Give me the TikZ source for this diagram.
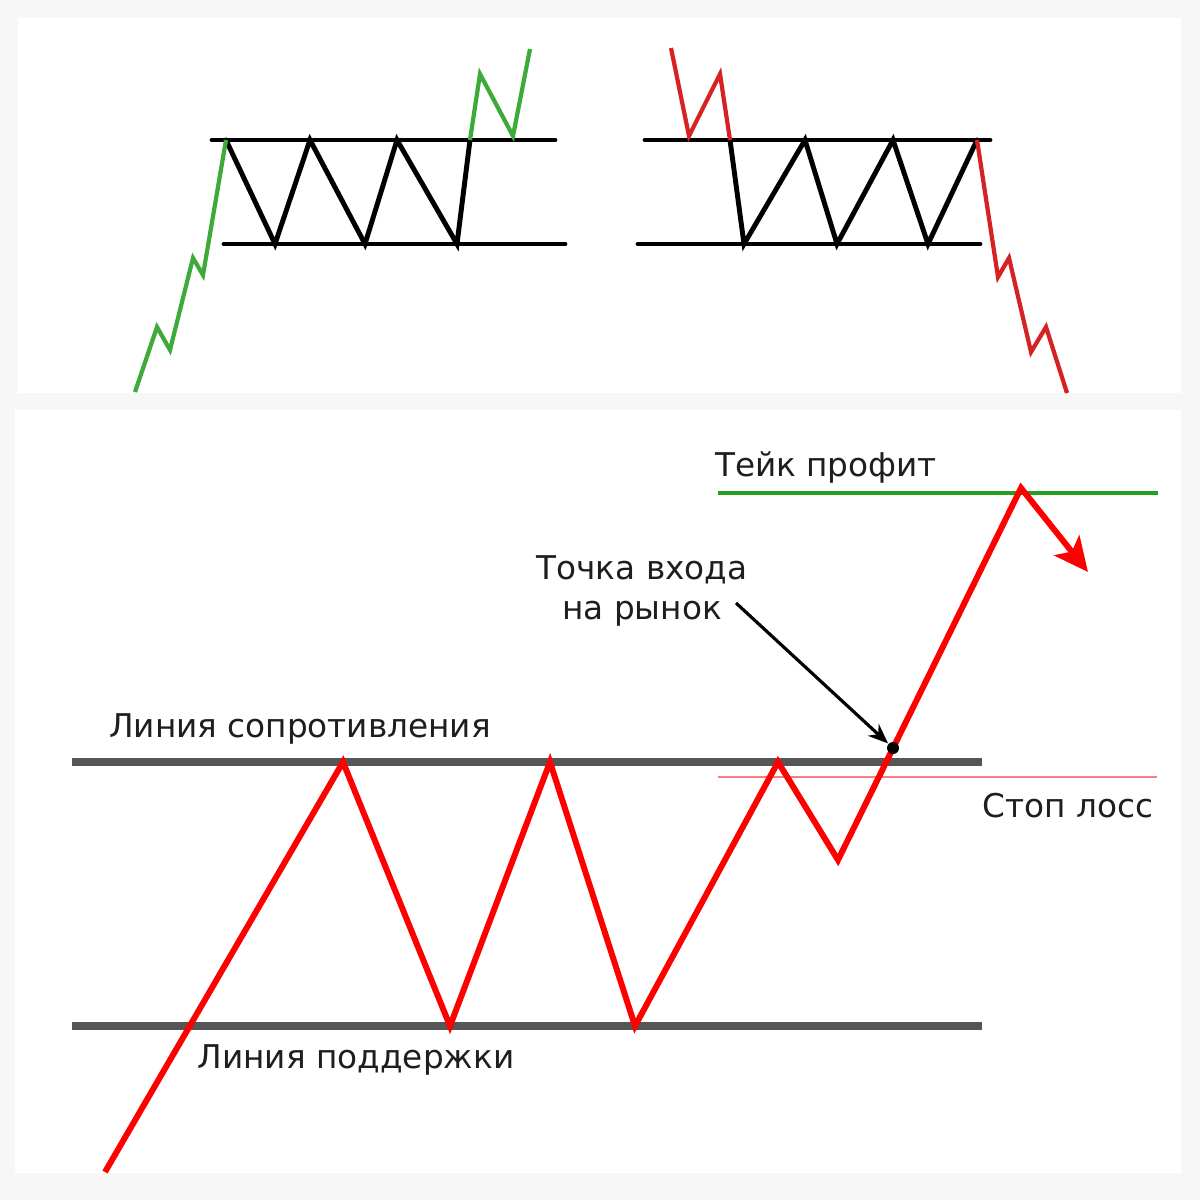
\documentclass[tikz,border=0pt]{standalone}
\usepackage{fontspec}
\setmainfont{DejaVu Sans}
\usetikzlibrary{arrows.meta, positioning}
\definecolor{upgreen}{HTML}{3DAA3A}
\definecolor{downred}{HTML}{D62222}
\definecolor{levelgray}{HTML}{565656}
\definecolor{tpgreen}{HTML}{22A022}
\definecolor{slpink}{HTML}{FF7C7C}
\definecolor{txt}{HTML}{1E1E1E}
\definecolor{frame}{HTML}{F7F7F7}
\tikzset{
  chan/.style={line width=1.4pt, black, line cap=round},
  trendup/.style={line width=1.2pt, upgreen},
  trenddown/.style={line width=1.2pt, downred},
  level/.style={line width=2.2pt, levelgray},
  price/.style={line width=1.7pt, red},
  lbl/.style={font=\fontsize{9.3}{11.4}\selectfont, text=txt, inner sep=0pt},
  pointer/.style={-{Stealth[length=0.2cm, width=0.16cm]}, line width=0.9pt, black},
}

\begin{document}
\begin{tikzpicture}[x=0.01cm, y=-0.01cm]
\useasboundingbox (0,0) rectangle (1200,1200);
\fill[frame] (0,0) rectangle (1200,1200);
\fill[white] (18,18) rectangle (1181,393);
\fill[white] (15,410) rectangle (1181,1173);

\draw[chan] (212,140) -- (555,140);
\draw[chan] (224,244) -- (565,244);
\draw[chan] (226,140) -- (275,244) -- (310,140) -- (365,244) -- (397,140) -- (457,244) -- (470,140);
\draw[trendup] (135,392) -- (157,327) -- (170,350) -- (193,258) -- (203,275) -- (226,140);
\draw[trendup] (470,140) -- (480,74) -- (513,136) -- (530,49);

\draw[chan] (645,140) -- (990,140);
\draw[chan] (638,244) -- (980,244);
\draw[chan] (730,140) -- (744,244) -- (805,140) -- (837,244) -- (893,140) -- (928,244) -- (977,140);
\draw[trenddown] (671,48) -- (689,136) -- (720,74) -- (730,140);
\draw[trenddown] (977,140) -- (998,277) -- (1009,258) -- (1031,352) -- (1046,327) -- (1067,393);

\draw[level] (72,762) -- (982,762);
\draw[level] (72,1026) -- (982,1026);
\draw[tpgreen, line width=1pt] (718,493) -- (1158,493);
\draw[slpink, line width=0.8pt] (718,777) -- (1157,777);

\draw[price, -{Stealth[length=0.34cm, width=0.32cm, inset=0.08cm]}]
  (105,1172) -- (343,762) -- (450,1026) -- (550,762) -- (635,1026)
  -- (778,762) -- (838,860) -- (1021,488) -- (1088,572);

\node[lbl] (tp) at (826,467) {Тейк профит};
\node[lbl, align=center] (entry) at (642,591) {Точка входа\\на рынок};
\node[lbl] (res) at (300,729) {Линия сопротивления};
\node[lbl] (sup) at (356,1060) {Линия поддержки};
\node[lbl] (sl) at (1068,806) {Стоп лосс};

\node[circle, fill=black, inner sep=0pt, minimum size=0.12cm] (in) at (893,748) {};
\coordinate (tail) at (736,603);
\draw[pointer] (tail) -- (in);
\end{tikzpicture}
\end{document}
